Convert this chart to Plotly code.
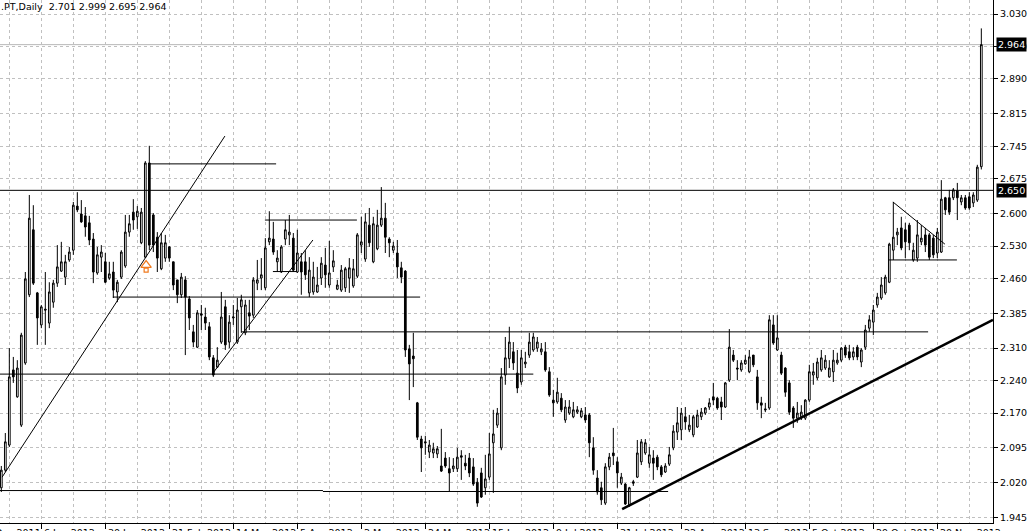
import plotly.graph_objects as go

# ---------------- data (daily candles, bar index 0..245) ----------------
open_ = [
    2.009, 2.047, 2.101, 2.263, 2.205, 2.144, 2.278, 2.425, 2.565, 2.429,
    2.360, 2.394, 2.364, 2.409, 2.450, 2.476, 2.463, 2.500, 2.521, 2.616,
    2.599, 2.595, 2.580, 2.545, 2.472, 2.506, 2.496, 2.461, 2.474, 2.431,
    2.463, 2.487, 2.560, 2.603, 2.593, 2.537, 2.506, 2.709, 2.597, 2.549,
    2.481, 2.504, 2.528, 2.496, 2.457, 2.425, 2.457, 2.416, 2.345, 2.312,
    2.384, 2.377, 2.356, 2.289, 2.269, 2.323, 2.399, 2.323, 2.375, 2.323,
    2.399, 2.343, 2.386, 2.381, 2.450, 2.461, 2.440, 2.539, 2.545, 2.496,
    2.474, 2.545, 2.554, 2.547, 2.474, 2.496, 2.496, 2.429, 2.431, 2.431,
    2.461, 2.489, 2.446, 2.485, 2.437, 2.435, 2.440, 2.461, 2.444, 2.465,
    2.532, 2.502, 2.575, 2.496, 2.524, 2.575, 2.590, 2.545, 2.521, 2.515,
    2.483, 2.476, 2.308, 2.293, 2.192, 2.114, 2.108, 2.086, 2.084, 2.082,
    2.056, 2.073, 2.050, 2.050, 2.050, 2.078, 2.062, 2.073, 2.054, 2.021,
    2.041, 2.009, 2.032, 2.106, 2.144, 2.095, 2.252, 2.287, 2.302, 2.256,
    2.237, 2.276, 2.295, 2.306, 2.310, 2.302, 2.302, 2.259, 2.198, 2.194,
    2.202, 2.155, 2.170, 2.162, 2.172, 2.162, 2.166, 2.166, 2.095, 2.030,
    2.009, 1.976, 2.054, 2.084, 2.065, 2.019, 2.017, 1.972, 2.022, 2.032,
    2.065, 2.084, 2.062, 2.073, 2.075, 2.054, 2.043, 2.060, 2.095, 2.129,
    2.134, 2.162, 2.134, 2.123, 2.140, 2.162, 2.170, 2.183, 2.205, 2.202,
    2.194, 2.183, 2.241, 2.295, 2.267, 2.263, 2.276, 2.259, 2.295, 2.248,
    2.192, 2.179, 2.181, 2.360, 2.306, 2.295, 2.267, 2.235, 2.181, 2.159,
    2.162, 2.159, 2.198, 2.252, 2.246, 2.263, 2.267, 2.248, 2.259, 2.278,
    2.284, 2.312, 2.302, 2.291, 2.312, 2.280, 2.312, 2.353, 2.366, 2.403,
    2.418, 2.429, 2.452, 2.521, 2.554, 2.569, 2.565, 2.575, 2.500, 2.504,
    2.539, 2.554, 2.554, 2.547, 2.515, 2.517, 2.634, 2.634, 2.634, 2.649,
    2.625, 2.634, 2.636, 2.623, 2.629, 2.701,
]
high_ = [
    2.056, 2.127, 2.310, 2.291, 2.284, 2.343, 2.474, 2.640, 2.618, 2.431,
    2.403, 2.474, 2.452, 2.457, 2.532, 2.539, 2.511, 2.528, 2.625, 2.646,
    2.629, 2.614, 2.595, 2.558, 2.528, 2.532, 2.515, 2.496, 2.496, 2.457,
    2.521, 2.597, 2.597, 2.631, 2.616, 2.612, 2.713, 2.746, 2.601, 2.560,
    2.558, 2.554, 2.530, 2.496, 2.457, 2.472, 2.465, 2.422, 2.360, 2.392,
    2.403, 2.397, 2.366, 2.295, 2.312, 2.431, 2.414, 2.381, 2.403, 2.418,
    2.425, 2.414, 2.414, 2.463, 2.500, 2.504, 2.547, 2.605, 2.582, 2.521,
    2.532, 2.586, 2.597, 2.558, 2.565, 2.515, 2.521, 2.506, 2.496, 2.485,
    2.506, 2.526, 2.541, 2.521, 2.457, 2.489, 2.485, 2.504, 2.502, 2.558,
    2.593, 2.601, 2.612, 2.593, 2.608, 2.657, 2.623, 2.549, 2.539, 2.543,
    2.496, 2.478, 2.317, 2.343, 2.194, 2.121, 2.121, 2.112, 2.106, 2.099,
    2.136, 2.086, 2.075, 2.073, 2.095, 2.090, 2.080, 2.084, 2.073, 2.030,
    2.052, 2.080, 2.127, 2.177, 2.181, 2.267, 2.334, 2.356, 2.323, 2.306,
    2.306, 2.302, 2.343, 2.343, 2.334, 2.321, 2.323, 2.269, 2.220, 2.246,
    2.213, 2.198, 2.198, 2.194, 2.185, 2.181, 2.183, 2.170, 2.118, 2.047,
    2.022, 2.062, 2.084, 2.138, 2.075, 2.041, 2.019, 2.011, 2.026, 2.112,
    2.114, 2.114, 2.097, 2.090, 2.080, 2.058, 2.062, 2.097, 2.144, 2.183,
    2.181, 2.183, 2.166, 2.166, 2.177, 2.181, 2.183, 2.202, 2.235, 2.205,
    2.205, 2.237, 2.351, 2.306, 2.284, 2.284, 2.295, 2.306, 2.295, 2.263,
    2.205, 2.192, 2.381, 2.381, 2.381, 2.302, 2.269, 2.241, 2.185, 2.194,
    2.187, 2.200, 2.274, 2.278, 2.289, 2.306, 2.295, 2.284, 2.306, 2.300,
    2.312, 2.317, 2.317, 2.312, 2.317, 2.310, 2.360, 2.381, 2.403, 2.429,
    2.463, 2.468, 2.537, 2.625, 2.569, 2.593, 2.580, 2.580, 2.537, 2.586,
    2.575, 2.569, 2.558, 2.554, 2.569, 2.672, 2.636, 2.651, 2.655, 2.666,
    2.640, 2.640, 2.646, 2.646, 2.705, 2.999,
]
low_ = [
    2.000, 2.043, 2.097, 2.235, 2.203, 2.140, 2.274, 2.420, 2.446, 2.317,
    2.353, 2.317, 2.353, 2.397, 2.442, 2.474, 2.446, 2.496, 2.511, 2.603,
    2.580, 2.550, 2.532, 2.450, 2.468, 2.474, 2.450, 2.457, 2.418, 2.409,
    2.459, 2.483, 2.550, 2.565, 2.567, 2.534, 2.504, 2.521, 2.517, 2.474,
    2.478, 2.496, 2.496, 2.435, 2.407, 2.418, 2.295, 2.349, 2.312, 2.310,
    2.349, 2.349, 2.284, 2.248, 2.267, 2.319, 2.306, 2.310, 2.360, 2.319,
    2.343, 2.338, 2.349, 2.375, 2.435, 2.435, 2.435, 2.532, 2.511, 2.474,
    2.472, 2.532, 2.532, 2.474, 2.472, 2.425, 2.457, 2.420, 2.425, 2.429,
    2.446, 2.440, 2.440, 2.474, 2.435, 2.431, 2.431, 2.429, 2.440, 2.461,
    2.515, 2.496, 2.528, 2.493, 2.521, 2.571, 2.515, 2.506, 2.515, 2.461,
    2.450, 2.291, 2.198, 2.226, 2.112, 2.043, 2.080, 2.073, 2.073, 2.073,
    2.043, 2.052, 2.002, 2.043, 2.043, 2.026, 2.047, 2.032, 2.013, 1.968,
    1.987, 1.994, 2.026, 1.998, 2.138, 2.090, 2.231, 2.267, 2.263, 2.213,
    2.231, 2.267, 2.289, 2.302, 2.302, 2.295, 2.259, 2.205, 2.162, 2.190,
    2.172, 2.149, 2.166, 2.159, 2.168, 2.159, 2.149, 2.075, 2.037, 1.994,
    1.972, 1.972, 2.047, 2.058, 2.009, 2.015, 1.972, 1.968, 2.013, 2.030,
    2.058, 2.080, 2.052, 2.026, 2.047, 2.032, 2.041, 2.056, 2.090, 2.112,
    2.112, 2.134, 2.129, 2.118, 2.138, 2.155, 2.166, 2.177, 2.187, 2.177,
    2.155, 2.181, 2.237, 2.280, 2.241, 2.259, 2.274, 2.256, 2.269, 2.177,
    2.159, 2.172, 2.177, 2.317, 2.304, 2.252, 2.205, 2.166, 2.138, 2.149,
    2.155, 2.155, 2.194, 2.231, 2.241, 2.259, 2.263, 2.246, 2.237, 2.274,
    2.280, 2.289, 2.284, 2.284, 2.284, 2.269, 2.306, 2.345, 2.338, 2.397,
    2.414, 2.425, 2.450, 2.500, 2.532, 2.521, 2.504, 2.521, 2.496, 2.496,
    2.532, 2.517, 2.500, 2.504, 2.504, 2.515, 2.597, 2.597, 2.629, 2.586,
    2.618, 2.608, 2.608, 2.614, 2.625, 2.695,
]
close_ = [
    2.047, 2.108, 2.248, 2.248, 2.267, 2.338, 2.459, 2.590, 2.450, 2.375,
    2.399, 2.392, 2.431, 2.450, 2.485, 2.496, 2.496, 2.517, 2.618, 2.608,
    2.582, 2.571, 2.543, 2.474, 2.511, 2.517, 2.452, 2.470, 2.435, 2.452,
    2.517, 2.560, 2.578, 2.586, 2.605, 2.603, 2.709, 2.532, 2.532, 2.504,
    2.537, 2.537, 2.504, 2.446, 2.425, 2.463, 2.420, 2.375, 2.323, 2.386,
    2.381, 2.364, 2.291, 2.252, 2.284, 2.377, 2.317, 2.366, 2.377, 2.392,
    2.414, 2.403, 2.379, 2.457, 2.457, 2.468, 2.526, 2.547, 2.517, 2.504,
    2.528, 2.565, 2.560, 2.478, 2.515, 2.474, 2.468, 2.478, 2.463, 2.446,
    2.493, 2.468, 2.472, 2.498, 2.446, 2.478, 2.481, 2.483, 2.481, 2.554,
    2.539, 2.582, 2.537, 2.578, 2.575, 2.590, 2.549, 2.537, 2.530, 2.485,
    2.463, 2.306, 2.276, 2.287, 2.118, 2.095, 2.106, 2.101, 2.093, 2.093,
    2.045, 2.056, 2.041, 2.056, 2.075, 2.075, 2.056, 2.041, 2.017, 1.976,
    1.989, 2.028, 2.082, 2.125, 2.170, 2.248, 2.289, 2.323, 2.278, 2.224,
    2.289, 2.280, 2.323, 2.334, 2.323, 2.308, 2.263, 2.209, 2.192, 2.215,
    2.177, 2.183, 2.183, 2.177, 2.177, 2.175, 2.155, 2.106, 2.047, 2.000,
    1.983, 2.054, 2.075, 2.078, 2.041, 2.032, 1.974, 2.009, 2.019, 2.084,
    2.108, 2.106, 2.080, 2.062, 2.054, 2.037, 2.056, 2.080, 2.131, 2.149,
    2.170, 2.151, 2.144, 2.162, 2.166, 2.172, 2.181, 2.192, 2.198, 2.181,
    2.183, 2.235, 2.312, 2.284, 2.265, 2.278, 2.284, 2.291, 2.274, 2.192,
    2.187, 2.177, 2.371, 2.321, 2.332, 2.256, 2.215, 2.172, 2.159, 2.170,
    2.172, 2.198, 2.259, 2.259, 2.280, 2.289, 2.284, 2.267, 2.284, 2.284,
    2.310, 2.295, 2.289, 2.302, 2.291, 2.306, 2.349, 2.371, 2.392, 2.420,
    2.446, 2.463, 2.534, 2.549, 2.560, 2.526, 2.539, 2.537, 2.521, 2.554,
    2.547, 2.532, 2.506, 2.511, 2.560, 2.631, 2.608, 2.603, 2.651, 2.634,
    2.634, 2.612, 2.612, 2.640, 2.700, 2.964,
]
bars = list(range(len(close_)))

symbol_text = ".PT,Daily"

# x-axis date labels (bar index -> label)
date_label_bars = [-6, 10, 26, 42, 58, 74, 90, 106, 122, 138, 154, 170, 186, 202, 218, 234]
date_labels = ["14 Dec 2011", "6 Jan 2012", "30 Jan 2012", "21 Feb 2012", "14 Mar 2012",
               "5 Apr 2012", "2 May 2012", "24 May 2012", "15 Jun 2012", "9 Jul 2012",
               "31 Jul 2012", "22 Aug 2012", "13 Sep 2012", "5 Oct 2012", "29 Oct 2012",
               "20 Nov 2012"]

# price-axis labels
price_labels = ["3.030", "2.960", "2.890", "2.815", "2.745", "2.675", "2.600", "2.530",
                "2.460", "2.385", "2.310", "2.240", "2.170", "2.095", "2.020", "1.945"]

# drawn objects: horizontal segments (bar_from, bar_to, price)
h_segments = [
    (-1, 80.4, 2.003), (80.4, 166.7, 2.001),
    (-1, 133.0, 2.254),
    (60.0, 231.7, 2.345),
    (27.9, 104.7, 2.420),
    (36.7, 68.7, 2.707),
    (65.9, 88.9, 2.586),
    (67.9, 73.9, 2.475),
    (221.7, 238.9, 2.500),
]
# trend lines (bar0, price0, bar1, price1, width)
trend_lines = [
    (0.2, 2.032, 55.9, 2.767, 1),
    (52.9, 2.256, 77.9, 2.543, 1),
    (222.9, 2.625, 235.9, 2.534, 1),
    (155.2, 1.963, 247.9, 2.371, 2.5),
]
level_line = 2.650
# up-arrow object: head and stem positions (bar, price)
arrow_head = (36.2, 2.489)
arrow_stem = (36.2, 2.478)

# ---------------- figure ----------------
x_range = [-0.33, 247.92]
y_range = [1.9331, 3.0602]
FONT = "DejaVu Sans"
GRID = "#C0C0C0"
ORANGE = "#F07A1E"

fig = go.Figure()
fig.add_trace(go.Candlestick(
    x=bars, open=open_, high=high_, low=low_, close=close_,
    increasing=dict(line=dict(color="black", width=1), fillcolor="white"),
    decreasing=dict(line=dict(color="black", width=1), fillcolor="black"),
    whiskerwidth=0, hoverinfo="skip", showlegend=False,
))
# arrow: stem (square) then head (triangle)
fig.add_trace(go.Scatter(
    x=[arrow_stem[0]], y=[arrow_stem[1]], mode="markers", hoverinfo="skip",
    marker=dict(symbol="square", size=4, color="white", line=dict(color=ORANGE, width=1.2)),
    showlegend=False))
fig.add_trace(go.Scatter(
    x=[arrow_head[0]], y=[arrow_head[1]], mode="markers", hoverinfo="skip",
    marker=dict(symbol="triangle-up", size=9, color="white", line=dict(color=ORANGE, width=1.2)),
    showlegend=False))

shapes = []
# bid line (last close)
shapes.append(dict(type="line", xref="paper", x0=0, x1=1, yref="y",
                   y0=close_[-1], y1=close_[-1], line=dict(color="#B8B8B8", width=1),
                   layer="below"))
shapes.append(dict(type="line", xref="paper", x0=0, x1=1, yref="y",
                   y0=level_line, y1=level_line, line=dict(color="black", width=1)))
for b0, b1, p in h_segments:
    shapes.append(dict(type="line", xref="x", yref="y", x0=b0, x1=b1, y0=p, y1=p,
                       line=dict(color="black", width=1)))
for b0, p0, b1, p1, w in trend_lines:
    shapes.append(dict(type="line", xref="x", yref="y", x0=b0, x1=b1, y0=p0, y1=p1,
                       line=dict(color="black", width=w)))

annotations = []
span = x_range[1] - x_range[0]
for b, t in zip(date_label_bars, date_labels):
    annotations.append(dict(
        xref="paper", yref="paper", x=(b - x_range[0]) / span, y=0,
        xanchor="left", yanchor="top", xshift=1, yshift=-2, showarrow=False,
        text=t, font=dict(family=FONT, size=9.5, color="black")))
# title
annotations.append(dict(
    xref="paper", yref="paper", x=0, y=1, xanchor="left", yanchor="top",
    xshift=-1, yshift=1, showarrow=False,
    text=f"{symbol_text}  {open_[-1]:.3f} {high_[-1]:.3f} {low_[-1]:.3f} {close_[-1]:.3f}",
    font=dict(family=FONT, size=9.5, color="black")))
# price boxes
for p in (close_[-1], level_line):
    annotations.append(dict(
        xref="paper", yref="y", x=1, y=p, xanchor="left", yanchor="middle",
        xshift=3, showarrow=False, text=f"{p:.3f}", bgcolor="black", borderpad=1,
        font=dict(family=FONT, size=9.5, color="white")))

fig.update_layout(
    width=1033, height=531,
    margin=dict(l=0, r=40, t=0, b=8),
    paper_bgcolor="white", plot_bgcolor="white",
    showlegend=False, boxgap=0.4,
    shapes=shapes, annotations=annotations,
    hovermode=False,
    xaxis=dict(
        range=x_range, rangeslider=dict(visible=False),
        tickmode="array", tickvals=date_label_bars[1:], showticklabels=False,
        ticks="outside", ticklen=5, tickcolor="black", tickwidth=1,
        showgrid=True, gridcolor=GRID, griddash="3px,3px", gridwidth=1,
        minor=dict(tick0=2, dtick=8, showgrid=True, gridcolor=GRID,
                   griddash="3px,3px", ticks=""),
        showline=True, linecolor="black", linewidth=1, zeroline=False,
        fixedrange=True,
    ),
    yaxis=dict(
        range=y_range, side="right",
        tickmode="array", tickvals=[float(v) for v in price_labels], ticktext=price_labels,
        ticks="outside", ticklen=4, tickcolor="black",
        tickfont=dict(family=FONT, size=9.5, color="black"),
        showgrid=True, gridcolor=GRID, griddash="3px,3px", gridwidth=1,
        showline=True, linecolor="black", linewidth=1, zeroline=False,
        fixedrange=True,
    ),
)

fig.write_html("out.html", config={"displayModeBar": False},
               post_script="document.body.style.margin='0px';")
